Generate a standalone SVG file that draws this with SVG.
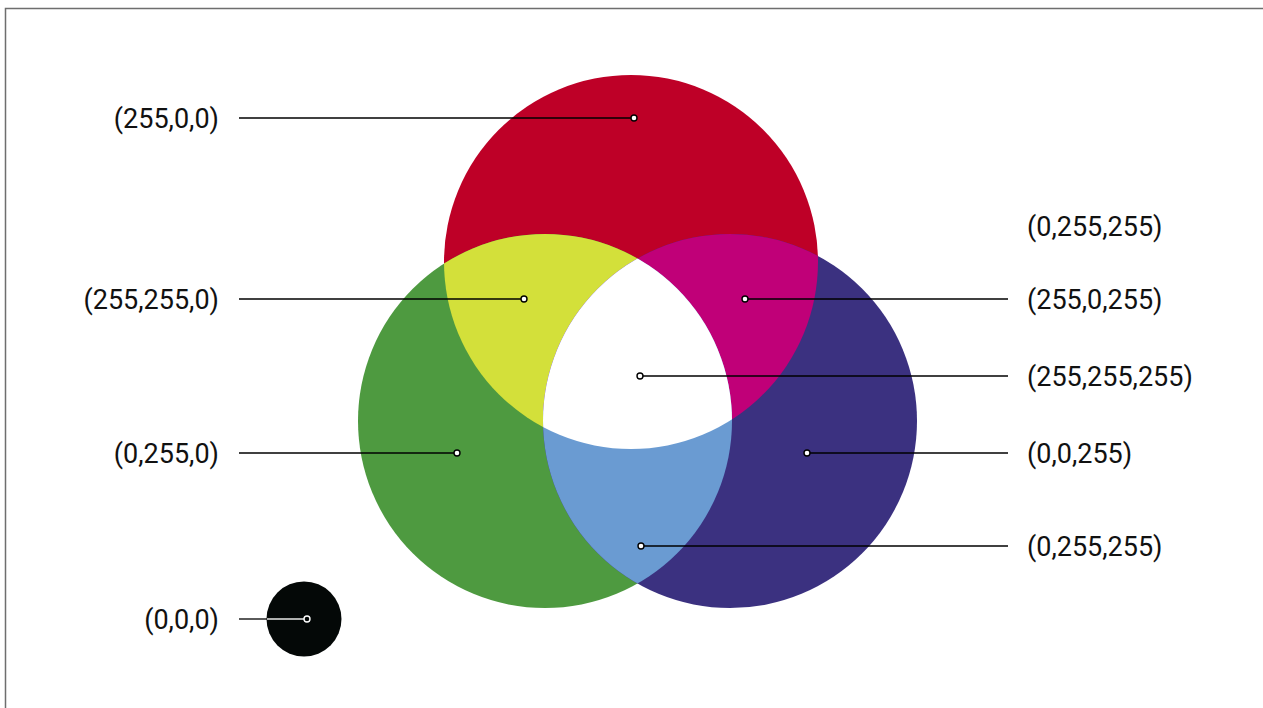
<svg xmlns="http://www.w3.org/2000/svg" width="1263" height="708" viewBox="0 0 1263 708">
<style>
.lbl{font-family:Roboto,"Liberation Sans",sans-serif;font-size:27px;fill:#111}
.l{text-anchor:end}
.ln{stroke:#000;stroke-width:1.3;fill:none}
.dot{fill:#fff;stroke:#000;stroke-width:1.4}
</style>
<defs>
<clipPath id="cR"><circle cx="631" cy="262" r="187"/></clipPath>
<clipPath id="cG"><circle cx="545" cy="421" r="187"/></clipPath>
<clipPath id="cB"><circle cx="730" cy="421" r="187"/></clipPath>
</defs>
<rect x="0" y="0" width="1263" height="708" fill="#fff"/>
<rect x="5.5" y="8.5" width="1300" height="800" fill="none" stroke="#6e6e6e" stroke-width="1.5"/>
<g id="red"><circle cx="631" cy="262" r="187" fill="#be0027"/></g>
<g id="green"><circle cx="545" cy="421" r="187" fill="#4e9a40"/></g>
<g id="blue"><circle cx="730" cy="421" r="187" fill="#3b3180"/></g>
<g id="yellow" clip-path="url(#cR)"><circle cx="545" cy="421" r="187" fill="#d3e03a"/></g>
<g id="magenta" clip-path="url(#cR)"><circle cx="730" cy="421" r="187" fill="#c00078"/></g>
<g id="cyan" clip-path="url(#cG)"><circle cx="730" cy="421" r="187" fill="#6a9bd2"/></g>
<g id="white" clip-path="url(#cR)"><g clip-path="url(#cG)"><circle cx="730" cy="421" r="187" fill="#fff"/></g></g>
<g id="black"><circle cx="304" cy="619" r="37.5" fill="#040807"/></g>
<g id="connectors">
<line class="ln" x1="239" y1="118" x2="634" y2="118"/>
<line class="ln" x1="239" y1="299" x2="524" y2="299"/>
<line class="ln" x1="239" y1="453" x2="457" y2="453"/>
<line class="ln" x1="239" y1="619" x2="267" y2="619"/>
<line x1="267" y1="619" x2="307" y2="619" stroke="#e8e8e8" stroke-width="1.3"/>
<line class="ln" x1="745" y1="299" x2="1008" y2="299"/>
<line class="ln" x1="640" y1="376" x2="1008" y2="376"/>
<line class="ln" x1="807" y1="453" x2="1008" y2="453"/>
<line class="ln" x1="641" y1="546" x2="1008" y2="546"/>
<circle class="dot" cx="634" cy="118" r="3"/>
<circle class="dot" cx="524" cy="299" r="3"/>
<circle class="dot" cx="457" cy="453" r="3"/>
<circle cx="307" cy="619" r="3" fill="#040807" stroke="#fff" stroke-width="1.4"/>
<circle class="dot" cx="745" cy="299" r="3"/>
<circle class="dot" cx="640" cy="376" r="3"/>
<circle class="dot" cx="807" cy="453" r="3"/>
<circle class="dot" cx="641" cy="546" r="3"/>
</g>
<g id="labels">
<text class="lbl l" x="219" y="128">(255,0,0)</text>
<text class="lbl l" x="219" y="309">(255,255,0)</text>
<text class="lbl l" x="219" y="463">(0,255,0)</text>
<text class="lbl l" x="219" y="629">(0,0,0)</text>
<text class="lbl" x="1027" y="236">(0,255,255)</text>
<text class="lbl" x="1027" y="309">(255,0,255)</text>
<text class="lbl" x="1027" y="386">(255,255,255)</text>
<text class="lbl" x="1027" y="463">(0,0,255)</text>
<text class="lbl" x="1027" y="556">(0,255,255)</text>
</g>
</svg>
